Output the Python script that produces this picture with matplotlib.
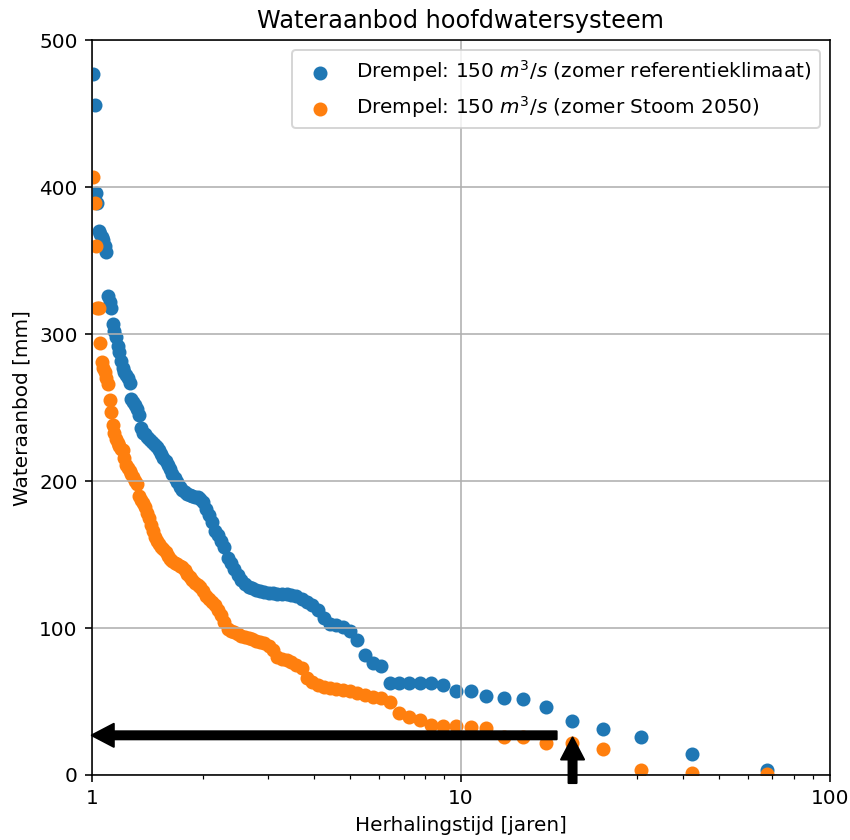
import matplotlib

matplotlib.use("Agg")
import matplotlib.pyplot as plt
from matplotlib.ticker import FuncFormatter


# Herhalingstijd per rangnummer (van zeldzaam naar vaak)
herhalingstijd = [
    67.62, 42.39, 30.87, 24.27, 20.00, 17.01, 14.79, 13.09, 11.74, 10.64,
    9.726, 8.959, 8.304, 7.738, 7.245, 6.811, 6.425, 6.081, 5.772, 5.493,
    5.240, 5.009, 4.797, 4.603, 4.424, 4.258, 4.104, 3.961, 3.827, 3.703,
    3.586, 3.476, 3.373, 3.276, 3.184, 3.097, 3.015, 2.937, 2.863, 2.793,
    2.726, 2.662, 2.601, 2.543, 2.487, 2.434, 2.383, 2.334, 2.287, 2.242,
    2.198, 2.156, 2.116, 2.078, 2.040, 2.004, 1.970, 1.936, 1.903, 1.872,
    1.842, 1.812, 1.784, 1.756, 1.730, 1.704, 1.678, 1.654, 1.630, 1.607,
    1.585, 1.563, 1.542, 1.521, 1.501, 1.481, 1.462, 1.444, 1.426, 1.408,
    1.391, 1.374, 1.358, 1.342, 1.326, 1.311, 1.296, 1.281, 1.267, 1.253,
    1.239, 1.226, 1.213, 1.200, 1.187, 1.175, 1.163, 1.151, 1.140, 1.128,
    1.117, 1.106, 1.096, 1.085, 1.075, 1.065, 1.055, 1.045, 1.036, 1.026,
    1.017, 1.008,
]

# Wateraanbod [mm], zomer referentieklimaat
aanbod_referentie = [
    3.5, 14.3, 26.0, 31.0, 36.7, 46.5, 51.6, 52.3, 53.5, 57.2,
    57.0, 61.2, 62.5, 62.5, 62.7, 62.7, 62.7, 74.0, 76.0, 81.5,
    92.0, 98.0, 101.0, 102.0, 102.5, 107.0, 112.0, 116.0, 118.0, 120.0,
    121.5, 122.5, 123.0, 123.5, 123.5, 124.0, 124.0, 124.5, 125.0, 126.0,
    127.0, 128.0, 130.0, 133.0, 136.0, 140.0, 144.0, 148.0, 155.0, 159.0,
    163.0, 166.0, 172.0, 177.0, 181.0, 186.0, 187.5, 189.0, 189.5, 190.0,
    190.5, 191.5, 192.5, 194.0, 196.0, 199.5, 202.0, 205.0, 208.0, 211.0,
    214.0, 216.0, 218.5, 221.0, 223.0, 224.5, 226.0, 227.0, 228.5, 230.0,
    232.0, 233.0, 236.0, 245.0, 249.0, 252.0, 254.0, 256.0, 267.0, 270.0,
    272.0, 274.0, 277.0, 282.0, 288.0, 292.0, 298.0, 302.0, 307.0, 318.0,
    322.0, 326.0, 356.0, 360.0, 364.0, 366.0, 368.0, 370.0, 389.0, 396.0,
    456.0, 477.0,
]

# Wateraanbod [mm], zomer Stoom 2050
aanbod_stoom = [
    1.0, 1.2, 3.4, 17.5, 21.5, 21.7, 25.6, 26.0, 32.0, 32.4,
    33.0, 33.3, 34.0, 37.4, 39.7, 42.0, 50.0, 52.2, 53.0, 54.4,
    56.0, 57.0, 57.8, 58.3, 59.0, 60.0, 61.5, 63.5, 66.0, 73.0,
    75.0, 77.0, 78.0, 79.0, 80.5, 85.0, 88.0, 89.5, 90.5, 91.5,
    92.5, 93.0, 94.0, 94.5, 96.0, 97.0, 98.0, 99.5, 104.0, 109.0,
    112.0, 115.5, 117.5, 119.5, 121.5, 125.0, 128.0, 129.5, 131.0, 133.0,
    135.0, 137.0, 139.5, 141.5, 142.5, 143.5, 144.5, 145.5, 147.0, 149.0,
    151.5, 153.5, 155.5, 157.5, 159.5, 162.0, 166.0, 170.0, 175.0, 178.0,
    182.5, 185.0, 187.0, 190.0, 198.0, 200.0, 203.0, 205.0, 207.0, 209.0,
    211.0, 216.0, 221.0, 222.0, 224.0, 226.0, 229.0, 233.0, 238.0, 247.0,
    255.0, 266.0, 270.0, 274.0, 277.0, 281.0, 294.0, 318.0, 318.0, 360.0,
    389.0, 407.0,
]

# Pijlen: drempelwaarde aflezen
pijl_horizontaal = {"van": (18.2, 27.0), "naar": (1.0, 27.0)}
pijl_verticaal = {"van": (20.1, -5.5), "naar": (20.1, 25.5)}


def main() -> None:
    fig, ax = plt.subplots(figsize=(850 / 144, 840 / 144), dpi=144)
    fig.subplots_adjust(left=0.108, right=0.976, top=0.952, bottom=0.0774)

    ax.scatter(
        herhalingstijd,
        aanbod_referentie,
        label=r"Drempel: 150 $m^3/s$ (zomer referentieklimaat)",
    )
    ax.scatter(
        herhalingstijd,
        aanbod_stoom,
        label=r"Drempel: 150 $m^3/s$ (zomer Stoom 2050)",
    )

    stijl = dict(
        facecolor="black",
        edgecolor="black",
        width=4,
        headwidth=11.5,
        headlength=11,
        shrink=0,
    )
    for pijl in (pijl_horizontaal, pijl_verticaal):
        ax.annotate("", xy=pijl["naar"], xytext=pijl["van"], arrowprops=stijl)

    ax.set_xscale("log")
    ax.set_xlim(1, 100)
    ax.set_ylim(0, 500)
    ax.xaxis.set_major_formatter(FuncFormatter(lambda v, _: f"{v:g}"))
    ax.grid(True)

    ax.set_title("Wateraanbod hoofdwatersysteem")
    ax.set_xlabel("Herhalingstijd [jaren]")
    ax.set_ylabel("Wateraanbod [mm]")
    ax.legend(loc="upper right")

    fig.savefig("out.png", dpi=144)
    plt.close(fig)


if __name__ == "__main__":
    main()
